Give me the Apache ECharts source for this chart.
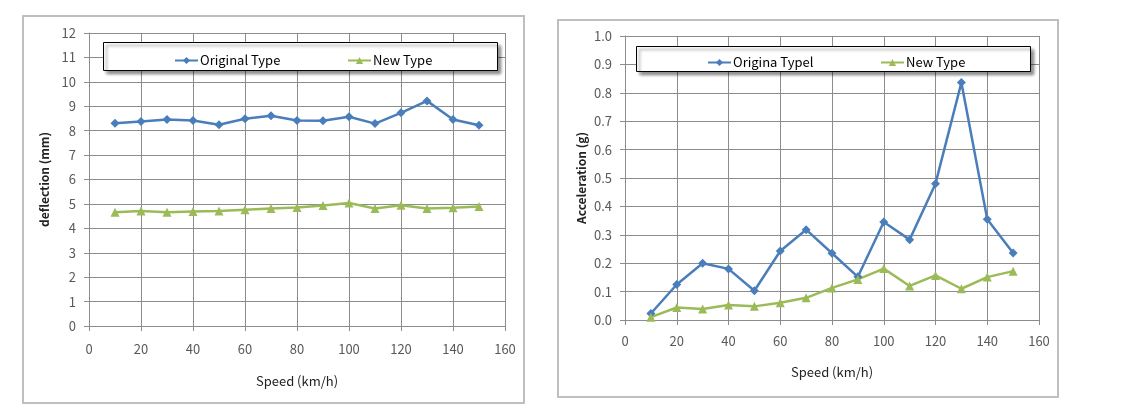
<!DOCTYPE html>
<html>
<head>
<meta charset="utf-8">
<script src="https://cdn.jsdelivr.net/npm/echarts@6/dist/echarts.min.js"></script>
<style>
html,body{margin:0;padding:0;background:#fff;}
#c{width:1122px;height:409px;}
</style>
</head>
<body>
<div id="c"></div>
<script>
const speeds = [10, 20, 30, 40, 50, 60, 70, 80, 90, 100, 110, 120, 130, 140, 150];
const deflOriginal = [8.30, 8.38, 8.46, 8.42, 8.24, 8.49, 8.61, 8.42, 8.41, 8.57, 8.29, 8.73, 9.22, 8.46, 8.22];
const deflNew = [4.66, 4.71, 4.66, 4.69, 4.71, 4.76, 4.81, 4.85, 4.94, 5.04, 4.81, 4.95, 4.81, 4.84, 4.89];
const accOriginal = [0.023, 0.125, 0.200, 0.180, 0.103, 0.243, 0.318, 0.235, 0.152, 0.345, 0.283, 0.480, 0.836, 0.355, 0.236];
const accNew = [0.010, 0.044, 0.039, 0.053, 0.048, 0.061, 0.078, 0.113, 0.143, 0.181, 0.120, 0.157, 0.110, 0.151, 0.172];

const leftNames = ['Original Type', 'New Type'];
const rightNames = ['Origina Typel', 'New Type'];

const FONT = '"Noto Sans CJK KR", "Noto Sans", sans-serif';
const BLUE = '#4a7ebb';
const GREEN = '#9bbb59';
const GRIDC = '#8c8c8c';

function pairs(ys) { return speeds.map((s, i) => [s, ys[i]]); }

const chart = echarts.init(document.getElementById('c'), null, {renderer: 'canvas'});

function xAxis(gi, margin, nameGap) {
  return {
    type: 'value', gridIndex: gi, min: 0, max: 160, interval: 20,
    name: 'Speed (km/h)', nameLocation: 'middle', nameGap: nameGap,
    nameTextStyle: {fontFamily: FONT, fontSize: 13, color: '#222'},
    axisLine: {show: true, lineStyle: {color: GRIDC, width: 1}},
    axisTick: {show: true, length: 5, lineStyle: {color: GRIDC}},
    axisLabel: {fontFamily: FONT, fontSize: 13, color: '#595959', margin: margin},
    splitLine: {show: true, lineStyle: {color: GRIDC, width: 1}}
  };
}
function yAxis(gi, min, max, interval, name, nameGap, fmt) {
  return {
    type: 'value', gridIndex: gi, min: min, max: max, interval: interval,
    name: name, nameLocation: 'middle', nameGap: nameGap,
    nameTextStyle: {fontFamily: FONT, fontSize: 12, fontWeight: 'bold', color: '#222'},
    axisLine: {show: true, lineStyle: {color: GRIDC, width: 1}},
    axisTick: {show: true, length: 5, lineStyle: {color: GRIDC}},
    axisLabel: {fontFamily: FONT, fontSize: 13, color: '#595959', margin: 13, formatter: fmt},
    splitLine: {show: true, lineStyle: {color: GRIDC, width: 1}}
  };
}
function lineSeries(name, xi, data, color, symbol, size) {
  return {
    type: 'line', name: name, xAxisIndex: xi, yAxisIndex: xi, data: data,
    symbol: symbol, symbolSize: size, showSymbol: true,
    lineStyle: {color: color, width: 2.5},
    itemStyle: {color: color},
    emphasis: {disabled: true}, animation: false, z: 3
  };
}
function legend(name, left, top) {
  return {
    data: [name], left: left, top: top, itemWidth: 23, itemHeight: 9, itemGap: 0,
    textStyle: {fontFamily: FONT, fontSize: 13, color: '#000', padding: [0, 0, 0, -3]},
    selectedMode: false, padding: 0, z: 10
  };
}

const option = {
  backgroundColor: '#fff',
  animation: false,
  grid: [
    {left: 89, top: 33, width: 416, height: 293},
    {left: 625, top: 36, width: 414, height: 284}
  ],
  xAxis: [xAxis(0, 17, 49), xAxis(1, 15, 46)],
  yAxis: [
    yAxis(0, 0, 12, 1, 'deflection (mm)', 39),
    yAxis(1, 0, 1.0, 0.1, 'Acceleration (g)', 38, v => v.toFixed(1))
  ],
  legend: [
    legend(leftNames[0], 174, 54),
    legend(leftNames[1], 347, 54),
    legend(rightNames[0], 707, 56),
    legend(rightNames[1], 880, 56)
  ],
  graphic: [
    {type: 'rect', shape: {x: 23, y: 16, width: 501, height: 387}, style: {fill: 'none', stroke: '#bfbfbf', lineWidth: 2}, z: 0, silent: true},
    {type: 'rect', shape: {x: 558, y: 20, width: 500, height: 377}, style: {fill: 'none', stroke: '#bfbfbf', lineWidth: 2}, z: 0, silent: true},
    {type: 'rect', shape: {x: 103.5, y: 42.5, width: 394, height: 28}, style: {fill: '#fff', stroke: '#000', lineWidth: 1, shadowBlur: 3, shadowOffsetX: 3, shadowOffsetY: 3, shadowColor: 'rgba(0,0,0,0.45)'}, z: 5, silent: true},
    {type: 'rect', shape: {x: 636.5, y: 46.5, width: 394, height: 25}, style: {fill: '#fff', stroke: '#000', lineWidth: 1, shadowBlur: 3, shadowOffsetX: 3, shadowOffsetY: 3, shadowColor: 'rgba(0,0,0,0.45)'}, z: 5, silent: true}
  ],
  series: [
    lineSeries(leftNames[0], 0, pairs(deflOriginal), BLUE, 'diamond', 9),
    lineSeries(leftNames[1], 0, pairs(deflNew), GREEN, 'triangle', 9),
    lineSeries(rightNames[0], 1, pairs(accOriginal), BLUE, 'diamond', 9),
    lineSeries(rightNames[1], 1, pairs(accNew), GREEN, 'triangle', 9)
  ]
};
chart.setOption(option);
</script>
</body>
</html>
